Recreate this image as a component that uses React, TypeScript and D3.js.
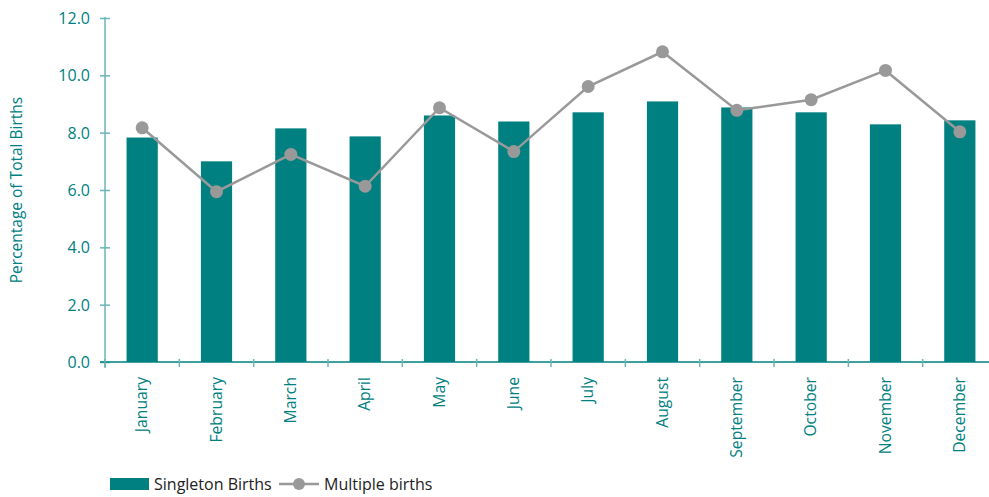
import React, { useRef, useEffect } from 'react';
import * as d3 from 'd3';

// month categories on the x axis
const months = [
  'January', 'February', 'March', 'April', 'May', 'June',
  'July', 'August', 'September', 'October', 'November', 'December',
];

// percentage of total births
const singletonBirths = [7.83, 7.0, 8.15, 7.87, 8.6, 8.39, 8.71, 9.09, 8.88, 8.71, 8.29, 8.43];
const multipleBirths = [8.17, 5.94, 7.24, 6.13, 8.87, 7.34, 9.61, 10.82, 8.78, 9.15, 10.17, 8.03];

const yTicks = [0, 2, 4, 6, 8, 10, 12];

const TEAL = '#008080';
const AXIS = '#6bb5b5';
const GREY = '#999999';
const FONT = '"Open Sans", sans-serif';

const BirthsChart = () => {
  const svgRef = useRef<SVGSVGElement | null>(null);

  useEffect(() => {
    if (!svgRef.current) return;
    document.body.style.margin = '0';

    const width = 989;
    const height = 497;
    const margin = { top: 18, right: -8, bottom: 135, left: 105 };

    const svg = d3.select(svgRef.current)
      .attr('width', width)
      .attr('height', height);
    svg.selectAll('*').remove();

    const x = d3.scaleBand<string>()
      .domain(months)
      .range([margin.left, width - margin.right])
      .paddingInner(0.58)
      .paddingOuter(0.29);

    const y = d3.scaleLinear()
      .domain([0, 12])
      .range([height - margin.bottom, margin.top]);

    // bars
    svg.append('g')
      .selectAll('rect')
      .data(singletonBirths)
      .enter().append('rect')
      .attr('x', (_, i) => x(months[i])!)
      .attr('y', d => y(d))
      .attr('width', x.bandwidth())
      .attr('height', d => y(0) - y(d))
      .attr('fill', TEAL);

    // y axis
    const yAxis = svg.append('g')
      .attr('transform', `translate(${margin.left},0)`)
      .call(d3.axisLeft(y).tickValues(yTicks).tickFormat(d3.format('.1f')).tickSize(5).tickSizeOuter(0));
    yAxis.select('.domain').remove();
    yAxis.append('line')
      .attr('x1', 0).attr('x2', 0)
      .attr('y1', y(12) - 1).attr('y2', y(0) + 6)
      .attr('stroke', AXIS).attr('stroke-width', 1.5);
    yAxis.selectAll('.tick line').attr('x2', -5).attr('x1', 5).attr('stroke', AXIS).attr('stroke-width', 1.5);
    yAxis.selectAll('.tick text')
      .attr('x', -15)
      .attr('dy', '0.34em')
      .attr('fill', TEAL)
      .style('font-family', FONT)
      .style('font-size', '16px');

    // x axis
    const step = x.step();
    const xAxis = svg.append('g').attr('transform', `translate(0,${y(0)})`);
    xAxis.append('line')
      .attr('x1', margin.left - 5).attr('x2', width)
      .attr('stroke', TEAL).attr('stroke-width', 1.5);
    xAxis.selectAll('.xtick')
      .data(months)
      .enter().append('line')
      .attr('x1', (_, i) => margin.left + i * step)
      .attr('x2', (_, i) => margin.left + i * step)
      .attr('y1', -3).attr('y2', 5)
      .attr('stroke', AXIS).attr('stroke-width', 1.5);
    xAxis.selectAll('.xlabel')
      .data(months)
      .enter().append('text')
      .attr('transform', d => `translate(${x(d)! + x.bandwidth() / 2 + 5},15) rotate(-90)`)
      .attr('text-anchor', 'end')
      .attr('fill', TEAL)
      .style('font-family', FONT)
      .style('font-size', '15.7px')
      .text(d => d);

    // multiple births line
    const cx = (i: number) => x(months[i])! + x.bandwidth() / 2;
    const line = d3.line<number>()
      .x((_, i) => cx(i))
      .y(d => y(d));
    svg.append('path')
      .datum(multipleBirths)
      .attr('d', line)
      .attr('fill', 'none')
      .attr('stroke', GREY)
      .attr('stroke-width', 2.5);
    svg.append('g')
      .selectAll('circle')
      .data(multipleBirths)
      .enter().append('circle')
      .attr('cx', (_, i) => cx(i))
      .attr('cy', d => y(d))
      .attr('r', 6.5)
      .attr('fill', GREY);

    // y axis title
    svg.append('text')
      .attr('transform', `translate(22,190) rotate(-90)`)
      .attr('text-anchor', 'middle')
      .attr('fill', TEAL)
      .style('font-family', FONT)
      .style('font-size', '15.5px')
      .text('Percentage of Total Births');

    // legend
    const legend = svg.append('g');
    legend.append('rect')
      .attr('x', 110).attr('y', 478)
      .attr('width', 39).attr('height', 12)
      .attr('fill', TEAL);
    legend.append('text')
      .attr('x', 154).attr('y', 490)
      .attr('fill', '#222')
      .style('font-family', FONT)
      .style('font-size', '16px')
      .text('Singleton Births');
    legend.append('line')
      .attr('x1', 279).attr('x2', 319)
      .attr('y1', 484).attr('y2', 484)
      .attr('stroke', GREY).attr('stroke-width', 2.5);
    legend.append('circle')
      .attr('cx', 299).attr('cy', 484).attr('r', 6)
      .attr('fill', GREY);
    legend.append('text')
      .attr('x', 324).attr('y', 490)
      .attr('fill', '#222')
      .style('font-family', FONT)
      .style('font-size', '16px')
      .text('Multiple births');
  }, []);

  return <svg ref={svgRef} style={{ display: 'block' }}></svg>;
};

export default function App() {
  return <BirthsChart />;
}
